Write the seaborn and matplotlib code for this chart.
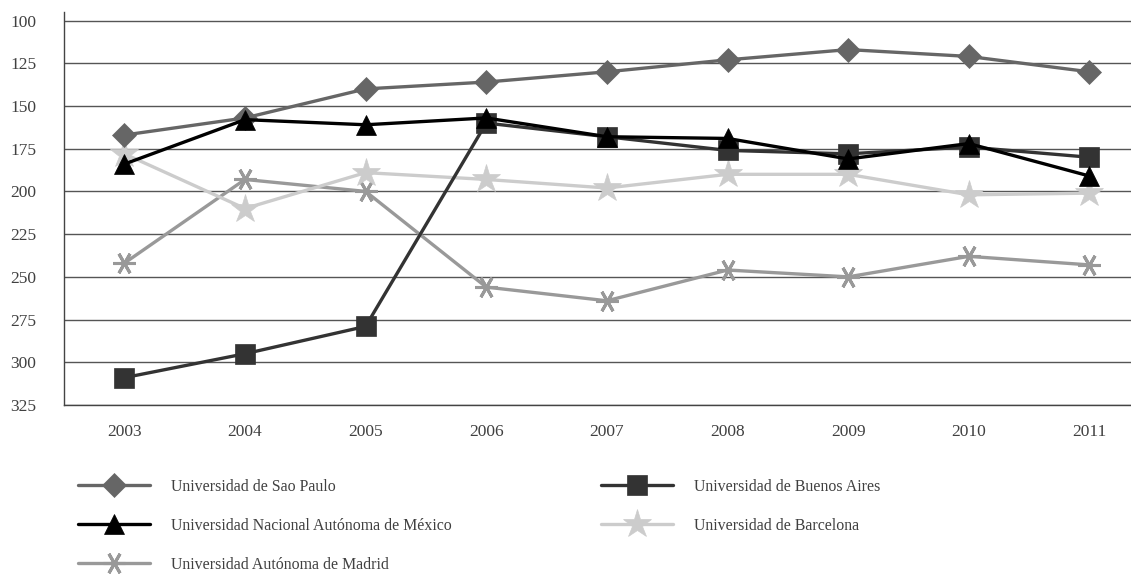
import matplotlib
matplotlib.use("Agg")
import matplotlib.pyplot as plt
import numpy as np
import pandas as pd
import seaborn as sns

years = ["2003", "2004", "2005", "2006", "2007", "2008", "2009", "2010", "2011"]

sao_paulo = [167, 157, 140, 136, 130, 123, 117, 121, 130]
unam = [184, 158, 161, 157, 168, 169, 181, 172, 191]
buenos_aires = [309, 295, 279, 160, 168, 176, 178, 174, 180]
barcelona = [178, 210, 189, 193, 198, 190, 190, 202, 201]
madrid = [242, 193, 200, 256, 264, 246, 250, 238, 243]

names = [
    "Universidad de Sao Paulo",
    "Universidad Nacional Autónoma de México",
    "Universidad Autónoma de Madrid",
    "Universidad de Buenos Aires",
    "Universidad de Barcelona",
]
series = [sao_paulo, unam, madrid, buenos_aires, barcelona]

# style per series: colour, marker, marker size
styles = {
    names[0]: ("#666666", "D", 12),
    names[1]: ("#000000", "^", 15),
    names[2]: ("#999999", (6, 2, 90), 16),
    names[3]: ("#333333", "s", 15),
    names[4]: ("#cccccc", "*", 21),
}

df = pd.DataFrame({
    "pos": np.tile(np.arange(len(years)), len(names)),
    "rank": np.concatenate(series),
    "univ": np.repeat(names, len(years)),
})

sns.set_style("white")
plt.rcParams["font.family"] = ["Liberation Serif", "DejaVu Serif"]
text_col = "#404040"

fig = plt.figure(figsize=(11.31, 5.74), dpi=100)
ax = fig.add_axes([0.0566, 0.2944, 0.96, 0.6847])

# horizontal grid
for v in range(100, 326, 25):
    ax.axhline(v, color="#555555", lw=1.0, zorder=0)

draw_order = [names[2], names[4], names[0], names[3], names[1]]
for name in draw_order:
    col, mk, ms = styles[name]
    sub = df[df["univ"] == name]
    sns.lineplot(data=sub, x="pos", y="rank", ax=ax, color=col, lw=2.4,
                 marker=mk, markersize=ms, markeredgecolor=col,
                 markeredgewidth=2.2 if isinstance(mk, tuple) else 0.5,
                 label=name, legend=False, zorder=3)

ax.set_ylim(325, 95)
ax.set_xlim(-0.5, 8.45)
ax.set_yticks(range(100, 326, 25))
ax.set_xticks(range(len(years)))
ax.set_xticklabels(years)
ax.set_xticks(np.arange(-0.5, 8.6, 1), minor=True)
ax.tick_params(axis="x", which="major", length=0, pad=14, labelsize=12.5, colors=text_col)
ax.tick_params(axis="x", which="minor", length=7, width=1, color="#444444", direction="out")
ax.tick_params(axis="y", length=8, width=1, color="#444444", labelsize=12.5,
               colors=text_col, pad=12)
ax.set_xlabel("")
ax.set_ylabel("")

for s in ["top", "right"]:
    ax.spines[s].set_visible(False)
ax.spines["left"].set_color("#444444")
ax.spines["bottom"].set_color("#444444")
ax.spines["left"].set_linewidth(1)
ax.spines["bottom"].set_linewidth(1)

handles = {h.get_label(): h for h in ax.get_lines() if h.get_label() in names}
leg = fig.legend([handles[n] for n in names], names, loc="upper left",
                 bbox_to_anchor=(0.0566, 0.191), ncol=2, frameon=False,
                 fontsize=11.4, handlelength=4.55, handletextpad=1.33,
                 columnspacing=9.4, labelspacing=1.45)
for t in leg.get_texts():
    t.set_color(text_col)

fig.savefig("out.png", dpi=100)
